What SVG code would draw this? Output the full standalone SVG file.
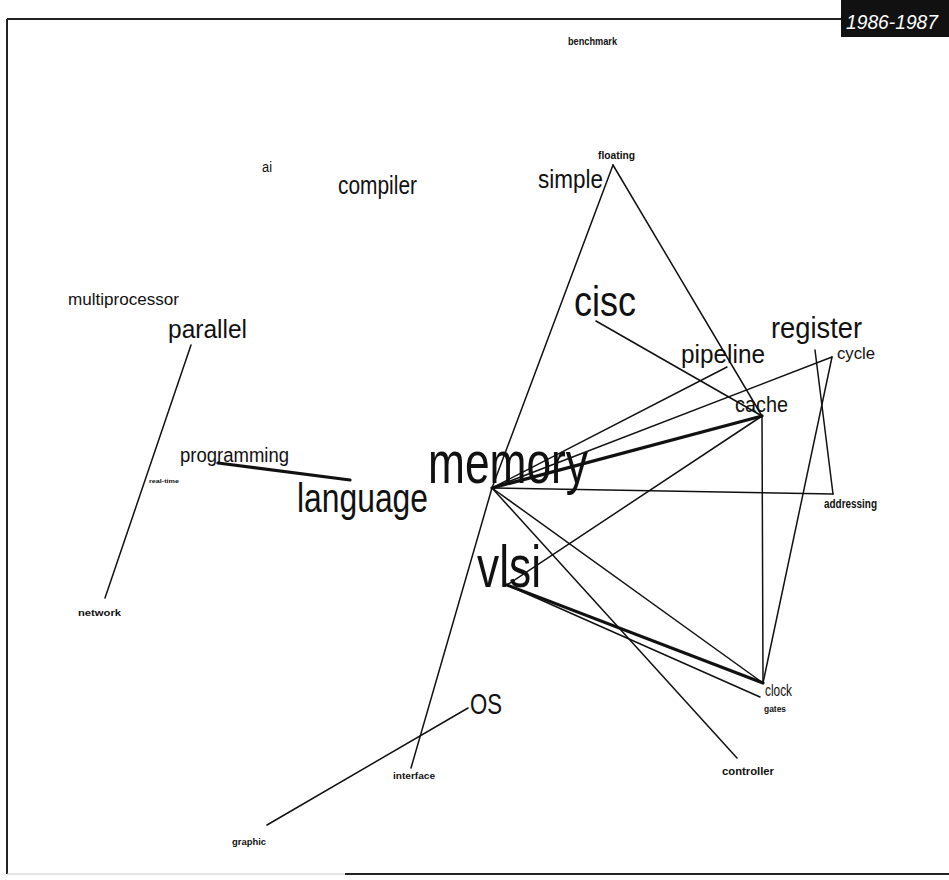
<svg xmlns="http://www.w3.org/2000/svg" width="949" height="880" viewBox="0 0 949 880">
<style>
  .t { font-family: "Liberation Sans", "DejaVu Sans", Arial, sans-serif; fill: #111; }
  .b { font-weight: bold; }
  .e { stroke: #111; stroke-width: 1.5; fill: none; stroke-linecap: round; }
  .k { stroke: #111; stroke-width: 3.2; fill: none; stroke-linecap: round; }
</style>
<rect x="0" y="0" width="949" height="880" fill="#fff"/>
<g id="frame">
  <line x1="7" y1="19" x2="842" y2="19" stroke="#222" stroke-width="2"/>
  <line x1="7" y1="19" x2="7" y2="874" stroke="#222" stroke-width="2"/>
  <line x1="7" y1="874" x2="345" y2="874" stroke="#ccc" stroke-width="1"/>
  <line x1="345" y1="874" x2="949" y2="874" stroke="#222" stroke-width="2.2"/>
  <rect x="841" y="0" width="108" height="37" fill="#111"/>
  <text x="846" y="29" font-family="Liberation Sans, Arial, sans-serif" font-style="italic" font-size="21" fill="#fff" textLength="92" lengthAdjust="spacingAndGlyphs">1986-1987</text>
</g>
<g id="connectors">
  <line class="e" x1="613" y1="165" x2="492" y2="488"/>
  <line class="e" x1="613" y1="165" x2="762" y2="416"/>
  <line class="e" x1="492" y1="488" x2="411" y2="768"/>
  <line class="e" x1="596" y1="321" x2="762" y2="416"/>
  <line class="e" x1="727" y1="367" x2="492" y2="488"/>
  <line class="e" x1="832" y1="357" x2="492" y2="488"/>
  <line class="k" x1="762" y1="416" x2="492" y2="488"/>
  <line class="e" x1="492" y1="488" x2="833" y2="494"/>
  <line class="e" x1="815" y1="350" x2="833" y2="494"/>
  <line class="e" x1="832" y1="357" x2="763" y2="683"/>
  <line class="e" x1="762" y1="416" x2="763" y2="683"/>
  <line class="e" x1="762" y1="416" x2="507" y2="585"/>
  <line class="k" x1="507" y1="585" x2="763" y2="683"/>
  <line class="e" x1="507" y1="585" x2="760" y2="697"/>
  <line class="e" x1="492" y1="488" x2="763" y2="683"/>
  <line class="e" x1="492" y1="488" x2="737" y2="758"/>
  <line class="k" x1="218" y1="463" x2="350" y2="480"/>
  <line class="e" x1="191" y1="345" x2="105" y2="598"/>
  <line class="e" x1="468" y1="708" x2="267" y2="825"/>
</g>
<g id="benchmark"><text class="t b" x="568" y="45" font-size="10" textLength="49" lengthAdjust="spacingAndGlyphs">benchmark</text></g>
<g id="floating"><text class="t b" x="598" y="159" font-size="11" textLength="37" lengthAdjust="spacingAndGlyphs">floating</text></g>
<g id="ai"><text class="t" x="262" y="172" font-size="14" textLength="10" lengthAdjust="spacingAndGlyphs">ai</text></g>
<g id="compiler"><text class="t" x="338" y="194" font-size="26" textLength="79" lengthAdjust="spacingAndGlyphs">compiler</text></g>
<g id="simple"><text class="t" x="538" y="188" font-size="25" textLength="65" lengthAdjust="spacingAndGlyphs">simple</text></g>
<g id="multiprocessor"><text class="t" x="68" y="305" font-size="16" textLength="111" lengthAdjust="spacingAndGlyphs">multiprocessor</text></g>
<g id="parallel"><text class="t" x="168" y="338" font-size="26" textLength="79" lengthAdjust="spacingAndGlyphs">parallel</text></g>
<g id="cisc"><text class="t" x="574" y="316" font-size="43" textLength="62" lengthAdjust="spacingAndGlyphs">cisc</text></g>
<g id="register"><text class="t" x="771" y="338" font-size="29" textLength="91" lengthAdjust="spacingAndGlyphs">register</text></g>
<g id="pipeline"><text class="t" x="681" y="363" font-size="25" textLength="84" lengthAdjust="spacingAndGlyphs">pipeline</text></g>
<g id="cycle"><text class="t" x="837" y="359" font-size="17" textLength="38" lengthAdjust="spacingAndGlyphs">cycle</text></g>
<g id="cache"><text class="t" x="735" y="412" font-size="22" textLength="53" lengthAdjust="spacingAndGlyphs">cache</text></g>
<g id="programming"><text class="t" x="180" y="462" font-size="20" textLength="109" lengthAdjust="spacingAndGlyphs">programming</text></g>
<g id="real-time"><text class="t b" x="149" y="483" font-size="6" textLength="30" lengthAdjust="spacingAndGlyphs">real-time</text></g>
<g id="memory"><text class="t" x="428" y="483" font-size="60" textLength="160" lengthAdjust="spacingAndGlyphs">memory</text></g>
<g id="language"><text class="t" x="297" y="512" font-size="40" textLength="131" lengthAdjust="spacingAndGlyphs">language</text></g>
<g id="addressing"><text class="t b" x="824" y="508" font-size="12" textLength="53" lengthAdjust="spacingAndGlyphs">addressing</text></g>
<g id="vlsi"><text class="t" x="477" y="587" font-size="60" textLength="64" lengthAdjust="spacingAndGlyphs">vlsi</text></g>
<g id="network"><text class="t b" x="78" y="616" font-size="9" textLength="43" lengthAdjust="spacingAndGlyphs">network</text></g>
<g id="clock"><text class="t" x="765" y="696" font-size="17" textLength="27" lengthAdjust="spacingAndGlyphs">clock</text></g>
<g id="gates"><text class="t b" x="764" y="712" font-size="9" textLength="22" lengthAdjust="spacingAndGlyphs">gates</text></g>
<g id="OS"><text class="t" x="470" y="714" font-size="30" textLength="32" lengthAdjust="spacingAndGlyphs">OS</text></g>
<g id="controller"><text class="t b" x="722" y="775" font-size="11" textLength="52" lengthAdjust="spacingAndGlyphs">controller</text></g>
<g id="interface"><text class="t b" x="393" y="779" font-size="9" textLength="42" lengthAdjust="spacingAndGlyphs">interface</text></g>
<g id="graphic"><text class="t b" x="232" y="845" font-size="9" textLength="34" lengthAdjust="spacingAndGlyphs">graphic</text></g>
</svg>
